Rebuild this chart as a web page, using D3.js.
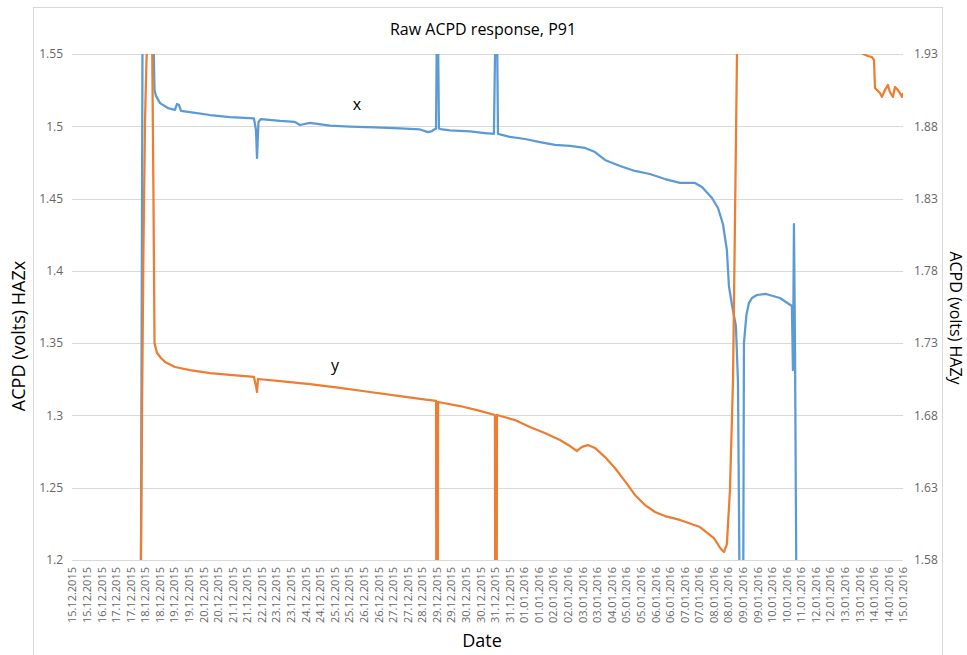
<!DOCTYPE html>
<html>
<head>
<meta charset="utf-8">
<script src="https://cdn.jsdelivr.net/npm/d3@7"></script>
<style>
  body { margin: 0; background: #fff; }
  svg text { font-family: "Open Sans", "Liberation Sans", sans-serif; }
</style>
</head>
<body>
<div id="chart"></div>
<script>
const dateLabels = [
  "15.12.2015","15.12.2015","16.12.2015","17.12.2015","17.12.2015","18.12.2015","18.12.2015",
  "19.12.2015","19.12.2015","20.12.2015","20.12.2015","21.12.2015","21.12.2015","22.12.2015",
  "23.12.2015","23.12.2015","24.12.2015","24.12.2015","25.12.2015","25.12.2015","26.12.2015",
  "26.12.2015","27.12.2015","27.12.2015","28.12.2015","29.12.2015","29.12.2015","30.12.2015",
  "30.12.2015","31.12.2015","31.12.2015","01.01.2016","01.01.2016","02.01.2016","02.01.2016",
  "03.01.2016","03.01.2016","04.01.2016","05.01.2016","05.01.2016","06.01.2016","06.01.2016",
  "07.01.2016","07.01.2016","08.01.2016","08.01.2016","09.01.2016","09.01.2016","10.01.2016",
  "10.01.2016","11.01.2016","12.01.2016","12.01.2016","13.01.2016","13.01.2016","14.01.2016",
  "14.01.2016","15.01.2016"
];
const leftTicks = [1.2, 1.25, 1.3, 1.35, 1.4, 1.45, 1.5, 1.55];
const rightTicks = [1.58, 1.63, 1.68, 1.73, 1.78, 1.83, 1.88, 1.93];

// HAZx (left axis): position along the category axis, value in volts
const xPos = [4.70, 4.84, 5.21, 5.56, 5.66, 5.76, 6.04, 6.58, 7.06, 7.20, 7.34, 7.48, 8.44, 9.47,
  10.84, 12.48, 12.62, 12.69, 12.79, 12.96, 14.27, 15.29, 15.64, 16.32, 17.70, 19.07, 20.78, 22.50,
  23.87, 24.42, 24.69, 24.97, 25.03, 25.10, 25.17, 25.38, 25.93, 27.30, 28.33, 28.94, 29.05, 29.15,
  29.22, 30.04, 31.07, 32.10, 33.13, 34.16, 35.19, 35.87, 36.56, 37.59, 38.61, 39.64, 40.67, 41.70,
  42.73, 43.21, 43.90, 44.31, 44.65, 44.92, 45.06, 45.27, 45.54, 45.68, 45.85, 46.02, 46.09, 46.26,
  46.43, 46.64, 46.98, 47.60, 48.56, 49.38, 49.45, 49.52, 49.59, 49.73, 57.0];
const xVal = [1.103, 1.574, 1.587, 1.574, 1.525, 1.521, 1.516, 1.5126, 1.5113, 1.5154, 1.5147, 1.5106, 1.5092, 1.5078,
  1.5064, 1.5054, 1.4974, 1.4781, 1.503, 1.505, 1.5037, 1.503, 1.5009, 1.5023, 1.5005, 1.4998, 1.4992, 1.4985,
  1.4978, 1.496, 1.4967, 1.4985, 1.574, 1.574, 1.4985, 1.4978, 1.4972, 1.4965, 1.4953, 1.4947, 1.574, 1.574,
  1.4947, 1.4926, 1.4912, 1.4891, 1.4871, 1.4864, 1.485, 1.4822, 1.4767, 1.4725, 1.4691, 1.467, 1.4635, 1.4608,
  1.4608, 1.458, 1.4504, 1.4435, 1.4324, 1.4144, 1.3895, 1.3764, 1.3619, 1.3238, 1.103, 1.103, 1.35, 1.3695,
  1.3778, 1.3812, 1.3833, 1.384, 1.3812, 1.3757, 1.3314, 1.4324, 1.3522, 1.103, 1.103];

// HAZy (right axis)
const yPos = [4.60, 4.70, 4.80, 4.90, 5.01, 5.11, 5.21, 5.49, 5.59, 5.66, 5.83, 6.10, 6.38, 7.06, 8.09,
  9.47, 10.84, 12.48, 12.62, 12.69, 12.76, 14.27, 16.32, 18.38, 20.44, 22.50, 23.87, 24.97, 24.99, 25.09,
  25.11, 26.61, 27.98, 29.01, 29.03, 29.13, 29.15, 30.38, 31.41, 32.43, 33.47, 34.16, 34.64, 34.98, 35.39,
  35.87, 36.56, 37.24, 37.93, 38.61, 39.30, 39.99, 40.67, 41.70, 43.07, 44.03, 44.51, 44.72, 44.92, 45.13,
  45.34, 45.51, 45.64, 46.16, 53.57, 53.77, 54.25, 54.60, 54.87, 55.01, 55.08, 55.42, 55.56, 55.76, 55.97,
  56.10, 56.31, 56.45, 56.65, 56.79, 56.93, 57.0];
const yVal = [1.483, 1.5385, 1.677, 1.7944, 1.8843, 1.9258, 1.9466, 1.9466, 1.829, 1.730, 1.7232, 1.7197, 1.717, 1.7135, 1.7114,
  1.7093, 1.708, 1.7066, 1.7004, 1.6962, 1.7052, 1.7038, 1.7017, 1.699, 1.6962, 1.6934, 1.6914, 1.69, 1.5385, 1.5385,
  1.6893, 1.6865, 1.6831, 1.6803, 1.5385, 1.5385, 1.6803, 1.6768, 1.672, 1.6678, 1.663, 1.6588, 1.6554, 1.6582, 1.6595,
  1.6575, 1.6512, 1.6436, 1.6346, 1.625, 1.618, 1.6132, 1.6104, 1.6077, 1.6028, 1.5952, 1.5876, 1.5855, 1.591, 1.6284,
  1.7045, 1.8428, 1.9535, 1.967, 1.967, 1.9397, 1.93, 1.9286, 1.9279, 1.9258, 1.9065, 1.903, 1.9003, 1.9051, 1.9086,
  1.9037, 1.9003, 1.9072, 1.9051, 1.903, 1.9003, 1.903];

function initChart(selector) {
  const W = 967, H = 655;
  const plot = {left: 72, right: 903, top: 54, bottom: 560};

  const xScale = d3.scaleLinear().domain([0, dateLabels.length - 1]).range([plot.left, plot.right]);
  const yLeft = d3.scaleLinear().domain([1.2, 1.55]).range([plot.bottom, plot.top]);
  const yRight = d3.scaleLinear().domain([1.58, 1.93]).range([plot.bottom, plot.top]);

  const svg = d3.select(selector).append("svg")
    .attr("width", W).attr("height", H);

  // chart border
  svg.append("rect")
    .attr("x", 33.5).attr("y", 7.5).attr("width", 909).attr("height", 700)
    .attr("fill", "none").attr("stroke", "#d9d9d9");

  svg.append("defs").append("clipPath").attr("id", "plotclip")
    .append("rect")
    .attr("x", plot.left).attr("y", plot.top)
    .attr("width", plot.right - plot.left).attr("height", plot.bottom - plot.top);

  // gridlines
  svg.append("g").selectAll("line").data(leftTicks).join("line")
    .attr("x1", plot.left).attr("x2", plot.right)
    .attr("y1", d => Math.round(yLeft(d)) + 0.5).attr("y2", d => Math.round(yLeft(d)) + 0.5)
    .attr("stroke", "#d9d9d9").attr("stroke-width", 1);

  // left axis
  const gl = svg.append("g")
    .attr("transform", `translate(${plot.left - 6}, 0)`)
    .call(d3.axisLeft(yLeft).tickValues(leftTicks).tickSize(0).tickFormat(d => String(d)));
  gl.select(".domain").remove();
  gl.selectAll("text").attr("fill", "#666").style("font-size", "12px");

  // right axis
  const gr = svg.append("g")
    .attr("transform", `translate(${plot.right + 8}, 0)`)
    .call(d3.axisRight(yRight).tickValues(rightTicks).tickSize(0).tickFormat(d => d.toFixed(2)));
  gr.select(".domain").remove();
  gr.selectAll("text").attr("fill", "#666").style("font-size", "12px");

  // category axis
  const gx = svg.append("g")
    .attr("transform", `translate(0, ${plot.bottom})`)
    .call(d3.axisBottom(xScale).tickValues(d3.range(dateLabels.length)).tickSize(0)
      .tickFormat(i => dateLabels[i]));
  gx.select(".domain").remove();
  gx.selectAll("text")
    .attr("fill", "#666").style("font-size", "11px")
    .attr("transform", "rotate(-90)")
    .attr("text-anchor", "end")
    .attr("x", -7).attr("y", 0).attr("dy", "0.35em");

  // series
  const lineX = d3.line().x((d, i) => xScale(xPos[i])).y(d => yLeft(d));
  const lineY = d3.line().x((d, i) => xScale(yPos[i])).y(d => yRight(d));

  const series = svg.append("g").attr("clip-path", "url(#plotclip)");
  series.append("path").datum(xVal)
    .attr("d", lineX).attr("fill", "none")
    .attr("stroke", "#5b9bd5").attr("stroke-width", 2.25).attr("stroke-linejoin", "round");
  series.append("path").datum(yVal)
    .attr("d", lineY).attr("fill", "none")
    .attr("stroke", "#ed7d31").attr("stroke-width", 2.25).attr("stroke-linejoin", "round");

  // series labels
  svg.append("text").attr("x", 357).attr("y", 110).attr("text-anchor", "middle")
    .style("font-size", "16px").attr("fill", "#000").text("x");
  svg.append("text").attr("x", 335).attr("y", 371).attr("text-anchor", "middle")
    .style("font-size", "16px").attr("fill", "#000").text("y");

  // titles
  svg.append("text").attr("x", 483).attr("y", 35).attr("text-anchor", "middle")
    .style("font-size", "16px").attr("fill", "#000").text("Raw ACPD response, P91");
  svg.append("text").attr("x", 482).attr("y", 647).attr("text-anchor", "middle")
    .style("font-size", "18px").attr("fill", "#000").text("Date");
  svg.append("text")
    .attr("transform", "translate(25, 336) rotate(-90)").attr("text-anchor", "middle")
    .style("font-size", "18px").attr("fill", "#000").text("ACPD (volts) HAZx");
  svg.append("text")
    .attr("transform", "translate(950, 318) rotate(90)").attr("text-anchor", "middle")
    .style("font-size", "16px").attr("fill", "#000").text("ACPD (volts) HAZy");
}

document.addEventListener('DOMContentLoaded', function () {
  initChart("#chart");
});
</script>
</body>
</html>
